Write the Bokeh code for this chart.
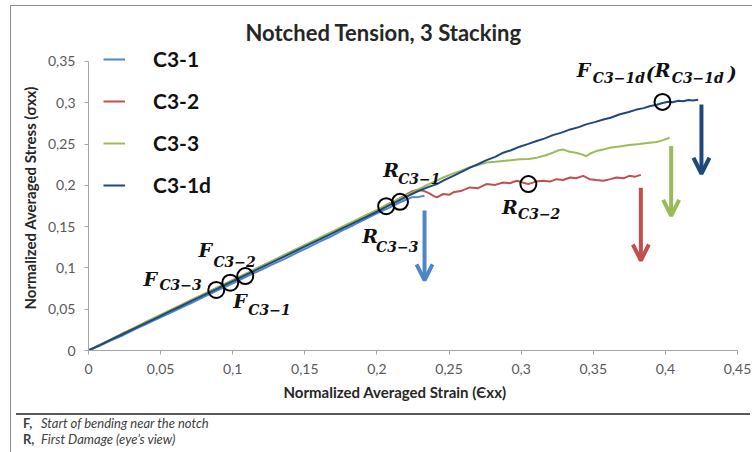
from bokeh.plotting import figure
from bokeh.models import (Legend, LegendItem, Arrow, OpenHead, FixedTicker,
                          ColumnDataSource, Div, Spacer, Title)
from bokeh.layouts import column, row
from bokeh.core.properties import value
from bokeh.embed import file_html
from bokeh.resources import INLINE

# ---------------- data ----------------
base_strain = [0, 0.008, 0.016, 0.024, 0.032, 0.04, 0.048, 0.056, 0.064, 0.072, 0.08,
               0.088, 0.096, 0.104, 0.112, 0.12, 0.128, 0.136, 0.144, 0.152, 0.16,
               0.168, 0.176, 0.184, 0.192, 0.2]

c31_strain = base_strain + [0.208, 0.216, 0.224, 0.229, 0.233]
c31_stress = [0, 0.006, 0.0125, 0.0185, 0.0255, 0.032, 0.0385, 0.045, 0.0515, 0.058, 0.065,
              0.0715, 0.078, 0.0845, 0.0915, 0.098, 0.1045, 0.111, 0.118, 0.1245, 0.1315,
              0.138, 0.1455, 0.152, 0.159, 0.166,
              0.1725, 0.1795, 0.1855, 0.186, 0.1875]

c32_strain = base_strain + [0.207, 0.213, 0.219, 0.224, 0.228, 0.232, 0.236, 0.2395, 0.2415,
                            0.246, 0.25, 0.253, 0.258, 0.2645, 0.27, 0.276, 0.282, 0.2875, 0.292,
                            0.297, 0.301, 0.305, 0.31, 0.3155, 0.32, 0.3245, 0.329, 0.334, 0.338,
                            0.343, 0.3475, 0.352, 0.357, 0.362, 0.366, 0.371, 0.375, 0.379, 0.383]
c32_stress = [0, 0.007, 0.0135, 0.021, 0.0275, 0.0345, 0.041, 0.048, 0.0545, 0.0615, 0.068,
              0.075, 0.0815, 0.0885, 0.095, 0.102, 0.1085, 0.1155, 0.122, 0.129, 0.1355,
              0.1425, 0.149, 0.156, 0.163, 0.1695,
              0.1765, 0.1815, 0.1875, 0.1925, 0.1945, 0.1935, 0.1905, 0.187, 0.1855,
              0.1895, 0.1885, 0.1915, 0.193, 0.1975, 0.1965, 0.2015, 0.2005, 0.2035, 0.2025,
              0.2055, 0.2035, 0.2015, 0.2045, 0.2055, 0.2045, 0.2075, 0.2065, 0.2095, 0.2085,
              0.2115, 0.2075, 0.2065, 0.2055, 0.2075, 0.2095, 0.2085, 0.2115, 0.2105, 0.2127]

c33_strain = base_strain + [0.207, 0.214, 0.221, 0.228, 0.235, 0.241, 0.246, 0.253, 0.258, 0.2645,
                            0.27, 0.276, 0.282, 0.2875, 0.293, 0.299, 0.305, 0.311, 0.317, 0.322,
                            0.326, 0.329, 0.333, 0.338, 0.342, 0.345, 0.348, 0.352, 0.357, 0.3615,
                            0.368, 0.375, 0.382, 0.389, 0.394, 0.398, 0.403]
c33_stress = [0, 0.0068, 0.014, 0.0205, 0.0278, 0.0345, 0.0415, 0.0482, 0.055, 0.0618, 0.0685,
              0.0752, 0.082, 0.0888, 0.0955, 0.1025, 0.109, 0.116, 0.1228, 0.1295, 0.1362,
              0.143, 0.15, 0.1565, 0.1635, 0.170,
              0.1765, 0.1825, 0.1885, 0.1945, 0.2005, 0.2055, 0.2095, 0.2145, 0.2175, 0.222,
              0.2245, 0.2275, 0.2285, 0.2295, 0.2305, 0.2315, 0.232, 0.2335, 0.2365, 0.2395,
              0.2425, 0.2435, 0.241, 0.2395, 0.2375, 0.2355, 0.2385, 0.2415, 0.2435, 0.2455,
              0.247, 0.2488, 0.250, 0.2515, 0.2525, 0.2544, 0.2576]

c31d_strain = base_strain + [0.207, 0.214, 0.221, 0.228, 0.235, 0.2415, 0.247, 0.253, 0.259, 0.2645,
                             0.27, 0.276, 0.282, 0.2876, 0.293, 0.299, 0.305, 0.3107, 0.316, 0.322,
                             0.328, 0.334, 0.34, 0.345, 0.351, 0.357, 0.362, 0.368, 0.374, 0.38,
                             0.385, 0.389, 0.394, 0.398, 0.402, 0.405, 0.409, 0.4123, 0.416, 0.419, 0.4227]
c31d_stress = [0, 0.0066, 0.0134, 0.0200, 0.0268, 0.0335, 0.0402, 0.0470, 0.0536, 0.0604, 0.0670,
               0.0738, 0.0805, 0.0872, 0.0940, 0.1006, 0.1074, 0.1140, 0.1208, 0.1276, 0.1342,
               0.1410, 0.1478, 0.1545, 0.1612, 0.1680,
               0.1745, 0.1805, 0.1865, 0.1925, 0.1975, 0.2015, 0.2065, 0.2115, 0.2165, 0.2215,
               0.2255, 0.2305, 0.2345, 0.2395, 0.2425, 0.2468, 0.2502, 0.2536, 0.2565, 0.2608,
               0.2638, 0.2677, 0.2705, 0.2738, 0.2765, 0.2797, 0.2818, 0.2858, 0.2885, 0.2917,
               0.2935, 0.2958, 0.2975, 0.2997, 0.3012, 0.3005, 0.3024, 0.3018, 0.3032, 0.3028, 0.3037]

series_names = ["C3-1", "C3-2", "C3-3", "C3-1d"]
series_colors = ["#4F86C6", "#C0504D", "#9BBB59", "#1F497D"]

# event points (F = start of bending, R = first damage)
event_strain = [0.0886, 0.0983, 0.1087, 0.2064, 0.216, 0.305, 0.398]
event_stress = [0.0733, 0.0821, 0.0901, 0.1747, 0.180, 0.2015, 0.301]

# event labels: main letter and subscript
main_text = ["F", "F", "F", "R", "R", "R", "F", "(", "R", ")"]
main_strain = [0.0381, 0.0762, 0.1004, 0.2043, 0.1898, 0.2867, 0.3386, 0.3864, 0.3927, 0.4432]
main_stress = [0.0865, 0.1214, 0.0601, 0.2188, 0.1382, 0.1743, 0.3393, 0.3365, 0.3393, 0.3365]
sub_text = ["C3\u22123", "C3\u22122", "C3\u22121", "C3\u22121", "C3\u22123", "C3\u22122",
            "C3\u22121d", "C3\u22121d"]
sub_strain = [0.0492, 0.0866, 0.1108, 0.2147, 0.1994, 0.2978, 0.3497, 0.4044]
sub_stress = [0.0793, 0.1070, 0.0493, 0.2079, 0.1250, 0.1647, 0.3305, 0.3305]

# failure arrows
arrow_strain = [0.233, 0.383, 0.404, 0.425]
arrow_top = [0.1695, 0.197, 0.2476, 0.298]
arrow_bottom = [0.085, 0.109, 0.163, 0.214]

x_ticks = [0, 0.05, 0.1, 0.15, 0.2, 0.25, 0.3, 0.35, 0.4, 0.45]
x_tick_labels = ["0", "0,05", "0,1", "0,15", "0,2", "0,25", "0,3", "0,35", "0,4", "0,45"]
y_ticks = [0, 0.05, 0.1, 0.15, 0.2, 0.25, 0.3, 0.35]
y_tick_labels = ["0", "0,05", "0,1", "0,15", "0,2", "0,25", "0,3", "0,35"]

x_title = "Normalized Averaged Strain (\u0404xx)"
y_title = "Normalized Averaged Stress (\u03c3xx)"

# ---------------- layout constants ----------------
FIG_W, FIG_H = 741, 402
B_LEFT, B_RIGHT, B_TOP, B_BOTTOM = 77, 15, 39, 57
FRAME_H = FIG_H - B_TOP - B_BOTTOM           # 306 px
AXIS_H = 290                                  # pixel height of the 0..0.35 axis
y_max = y_ticks[-1]
y_end = y_max * FRAME_H / AXIS_H             # extra head-room for the legend

p = figure(width=FIG_W, height=FIG_H, output_backend="svg", toolbar_location=None,
           x_range=(x_ticks[0], x_ticks[-1]), y_range=(0, y_end),
           min_border_left=B_LEFT, min_border_right=B_RIGHT,
           min_border_top=B_TOP, min_border_bottom=B_BOTTOM)
p.outline_line_color = None
p.xgrid.visible = False
p.ygrid.visible = False
p.background_fill_color = "white"
p.border_fill_color = "white"

p.title.text = "Notched Tension, 3 Stacking"
p.title.align = "left"
p.title.offset = 157
p.title.standoff = 0
p.title.text_font = "Lato"
p.title.text_font_style = "bold"
p.title.text_font_size = "22px"
p.title.text_color = "#262626"

for ax, ticks, labels in ((p.xaxis[0], x_ticks, x_tick_labels), (p.yaxis[0], y_ticks, y_tick_labels)):
    ax.ticker = FixedTicker(ticks=ticks)
    ax.major_label_overrides = dict(zip(ticks, labels))
    ax.bounds = (ticks[0], ticks[-1])
    ax.minor_tick_line_color = None
    ax.major_tick_in = 0
    ax.major_tick_out = 4
    ax.axis_line_color = "#A6A6A6"
    ax.major_tick_line_color = "#A6A6A6"
    ax.major_label_text_font = "Lato"
    ax.major_label_text_font_size = "14px"
    ax.major_label_text_color = "#595959"
    ax.major_label_standoff = 9
    ax.axis_label_text_font = "Lato"
    ax.axis_label_text_font_style = "bold"
    ax.axis_label_text_font_size = "15px"
    ax.axis_label_text_color = "#262626"
    ax.axis_label_standoff = 6

p.yaxis.axis_label = y_title
# x-axis title placed as a below-title so it can sit slightly left of centre, as in the original
p.add_layout(Title(text=x_title, align="left", offset=195, vertical_align="top", standoff=12,
                   text_font="Lato", text_font_style="bold", text_font_size="15px",
                   text_color="#262626"), "below")

renderers = []
for sx, sy, col in ((c31_strain, c31_stress, series_colors[0]),
                    (c32_strain, c32_stress, series_colors[1]),
                    (c33_strain, c33_stress, series_colors[2]),
                    (c31d_strain, c31d_stress, series_colors[3])):
    renderers.append(p.line(sx, sy, line_color=col, line_width=2))

p.scatter(event_strain, event_stress, marker="circle", size=16, fill_alpha=0,
          line_color="black", line_width=2)

main_src = ColumnDataSource(dict(x=main_strain, y=main_stress, t=main_text))
p.text(x="x", y="y", text="t", source=main_src, text_font=value("DejaVu Serif"),
       text_font_style="bold italic", text_font_size="19px", text_baseline="middle",
       text_align="left", text_color="#111111")
sub_src = ColumnDataSource(dict(x=sub_strain, y=sub_stress, t=sub_text))
p.text(x="x", y="y", text="t", source=sub_src, text_font=value("DejaVu Serif"),
       text_font_style="bold italic", text_font_size="14px", text_baseline="middle",
       text_align="left", text_color="#111111")

for xa, yt, yb, col in zip(arrow_strain, arrow_top, arrow_bottom, series_colors):
    p.add_layout(Arrow(x_start=xa, y_start=yt, x_end=xa, y_end=yb, line_color=col,
                       line_width=4, end=OpenHead(size=16, line_width=4, line_color=col)))

legend = Legend(items=[LegendItem(label=n, renderers=[r]) for n, r in zip(series_names, renderers)],
                location=(15, 153), label_text_font="Lato", label_text_font_style="bold",
                label_text_font_size="21px", label_text_color="#111111",
                glyph_width=22, glyph_height=20, label_height=20, label_standoff=28,
                spacing=17, padding=0, margin=0, background_fill_alpha=0,
                border_line_color=None)
p.add_layout(legend)

foot_html = (
    '<div style="font-family:Lato,sans-serif;font-size:13px;color:#404040;line-height:16px;'
    'border-top:2px solid #595959;padding:0 0 0 7px;width:734px;">'
    '<span style="display:inline-block;width:18px;font-weight:bold;">F,</span>'
    '<i>Start of bending near the notch</i><br>'
    '<span style="display:inline-block;width:18px;font-weight:bold;">R,</span>'
    '<i>First Damage (eye\u2019s view)</i></div>'
)
foot = Div(text=foot_html, width=FIG_W, height=42)

box = column(p, foot, styles={"border-left": "1px solid #8C8C8C",
                              "border-top": "1px solid #8C8C8C",
                              "border-bottom": "1px solid #8C8C8C",
                              "background": "white"})
root = column(Spacer(height=5), row(Spacer(width=10), box))

open("out.html", "w").write(file_html(root, INLINE))
